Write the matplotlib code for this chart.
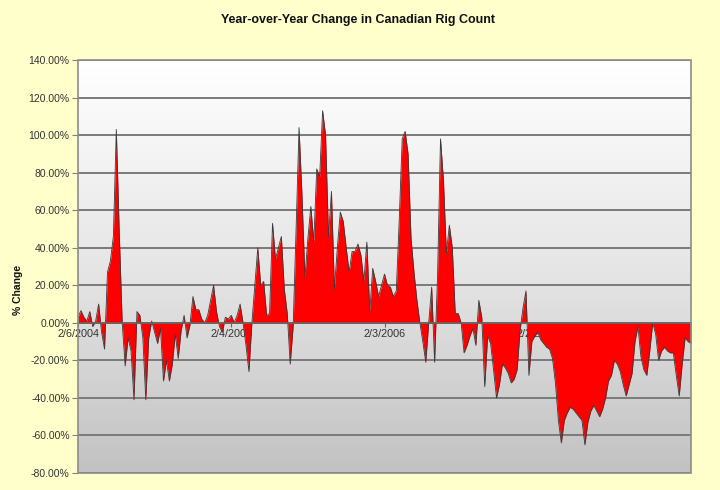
import matplotlib
matplotlib.use("Agg")
import matplotlib.pyplot as plt
import numpy as np
from matplotlib.patches import Rectangle
from matplotlib.ticker import FuncFormatter

title = "Year-over-Year Change in Canadian Rig Count"
y_label = "% Change"
tick_labels = ["2/6/2004", "2/4/2005", "2/3/2006", "2/2/2007"]
tick_weeks = [0, 52, 104, 156]

# weekly year-over-year change (%), starting 2/6/2004
values = [
    3, 6.5, 3, 1, 6, -2, 1, 10, -5, -14,
    27, 33, 46, 103, 48, 0, -23, -8, -15, -41,
    6, 4, -8, -41, -8, 1, -5, -11, -3, -31,
    -20, -31, -22, -6, -19, -4, 4, -8, -1, 14,
    7, 7, 2, 0, 4, 12, 20, 6, -2, -5,
    3, 2, 4, 0, 4, 10, 0, -12, -26, 0,
    20, 40, 20, 22, 4, 5, 53, 34, 40, 46,
    18, 5, -22, -2, 50, 104, 68, 24, 45, 62,
    43, 82, 78, 113, 100, 46, 70, 18, 40, 59,
    54, 40, 27, 38, 38, 42, 36, 22, 43, 6,
    29, 22, 14, 20, 26, 20, 19, 14, 17, 55,
    98, 102, 90, 45, 27, 12, 0, -10, -21, 0,
    19, -21, 25, 98, 76, 37, 52, 40, 5, 5,
    0, -16, -12, -7, -3, -12, 12, 3, -34, -7,
    -11, -25, -40, -33, -22, -24, -27, -32, -30, -25,
    -4, 8, 17, -28, -10, -7, -5, -9, -11, -13,
    -14, -19, -32, -52, -64, -52, -48, -45, -46, -48,
    -50, -52, -65, -53, -47, -44, -47, -50, -46, -40,
    -31, -28, -20, -22, -26, -33, -39, -33, -27, -10,
    -2, -18, -25, -28, -15, 0, -6, -20, -15, -13,
    -15, -16, -16, -28, -39, -22, -8, -10, -11,
]

plt.rcParams['font.family'] = ['Liberation Sans', 'DejaVu Sans']

fig = plt.figure(figsize=(7.2, 4.9), dpi=100, facecolor='#FFFFCC')
ax = fig.add_axes([78/720, 1-473/490, (691-78)/720, (473-60)/490])

x = np.arange(len(values))
y = np.array(values, dtype=float)
ymin, ymax = -80, 140
ax.set_xlim(0, len(values)-1)
ax.set_ylim(ymin, ymax)

# gradient plot background
grad = np.linspace(1.0, 0.0, 256).reshape(-1, 1)
from matplotlib.colors import LinearSegmentedColormap
cmap = LinearSegmentedColormap.from_list('bg', ['#C2C2C2', '#E6E6E6', '#FFFFFF'])
ax.imshow(grad[::-1], extent=[0, len(values)-1, ymin, ymax], aspect='auto',
          cmap=cmap, origin='lower', zorder=0, interpolation='bicubic')

# gridlines
for gv in np.arange(ymin, ymax + 1, 20):
    ax.axhline(gv, color='#7A7A7A', lw=1.4, zorder=1)

ax.fill_between(x, 0, y, color='#FF0000', lw=0, zorder=2)
ax.plot(x, y, color='#3A3A3A', lw=0.6, zorder=3)

# axes styling
for s in ['top', 'right', 'left']:
    ax.spines[s].set_visible(False)
ax.spines['bottom'].set_position(('data', 0))
ax.spines['bottom'].set_color('#666666')
ax.spines['bottom'].set_linewidth(1.2)
ax.spines['bottom'].set_zorder(4)

ax.set_xticks(tick_weeks)
ax.set_xticklabels(tick_labels, fontsize=7.8, color='#333333')
ax.tick_params(axis='x', direction='out', length=3, color='#666666', pad=1.5)
for lbl in ax.get_xticklabels():
    lbl.set_zorder(5)

ax.set_yticks(np.arange(ymin, ymax + 1, 20))
ax.yaxis.set_major_formatter(FuncFormatter(lambda v, p: f"{v:.2f}%"))
ax.tick_params(axis='y', direction='out', length=4, color='#808080',
               labelsize=7.5, labelcolor='#333333', pad=2)

# plot area border
ax.add_patch(Rectangle((0, 0), 1, 1, transform=ax.transAxes, fill=False,
                       edgecolor='#8C8C8C', lw=1.2, zorder=6, clip_on=False))

fig.text(358/720, 1-20/490, title, ha='center', va='center',
         fontsize=9, fontweight='bold', color='#111111')
fig.text(18/720, 1-290/490, y_label, ha='center', va='center', rotation=90,
         fontsize=7.5, fontweight='bold', color='#111111')

fig.savefig('out.png', dpi=100, facecolor=fig.get_facecolor())
